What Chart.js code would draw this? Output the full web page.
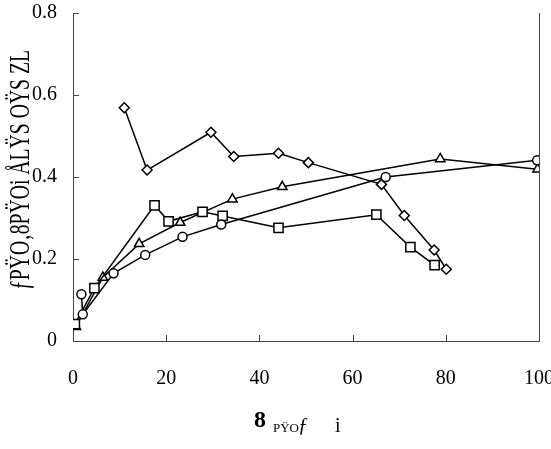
<!DOCTYPE html>
<html lang="en">
<head>
    <meta charset="UTF-8">
    <title>Chart</title>
    <style>
        body {
            margin: 0;
            background-color: white;
        }
        #wrap {
            width: 551px;
            height: 449px;
        }
    </style>
    <script src="https://cdn.jsdelivr.net/npm/chart.js"></script>
</head>
<body>
    <div id="wrap"><canvas id="myChart"></canvas></div>

    <script>
        // x values (abscissa) and y values for each marker series
        const circleX = [1.8, 2.1, 8.7, 15.5, 23.5, 31.8, 67.1, 99.6];
        const circleY = [0.114, 0.065, 0.165, 0.210, 0.254, 0.284, 0.400, 0.441];

        const squareX = [0.4, 4.6, 17.5, 20.5, 27.8, 32.1, 44.1, 65.1, 72.4, 77.6];
        const squareY = [0.041, 0.129, 0.331, 0.292, 0.315, 0.305, 0.276, 0.308, 0.229, 0.185];

        const triangleX = [0.6, 6.4, 14.2, 23.0, 34.2, 44.9, 78.8, 99.7];
        const triangleY = [0.035, 0.155, 0.237, 0.289, 0.346, 0.376, 0.444, 0.419];

        const diamondX = [11.0, 15.9, 29.6, 34.5, 44.1, 50.5, 66.2, 71.1, 77.5, 80.1];
        const diamondY = [0.569, 0.417, 0.509, 0.450, 0.458, 0.435, 0.382, 0.306, 0.222, 0.175];

        const xTicks = [0, 20, 40, 60, 80, 100];
        const yTicks = [0, 0.2, 0.4, 0.6, 0.8];

        const yTitle = 'ƒPŸO‚8PŸOi ÅLŸS OŸS ZL';
        const xTitleParts = [
            { text: '8', font: 'bold 24px "Liberation Serif"', x: 254, y: 427 },
            { text: 'PŸO', font: '13px "Liberation Serif"', x: 273, y: 432 },
            { text: 'ƒ', font: 'italic 20px "Liberation Serif"', x: 298, y: 432 },
            { text: 'i', font: '20px "Liberation Serif"', x: 335, y: 432 }
        ];

        function pts(xs, ys) {
            return xs.map((x, i) => ({ x: x, y: ys[i] }));
        }

        function series(label, xs, ys, style, radius) {
            return {
                label: label,
                data: pts(xs, ys),
                borderColor: '#000',
                borderWidth: 1.5,
                backgroundColor: '#fff',
                pointStyle: style,
                pointRadius: radius,
                pointBorderWidth: 1.5,
                pointBackgroundColor: '#fff',
                pointBorderColor: '#000',
                tension: 0,
                fill: false
            };
        }

        const PLOT_LEFT = 73, PLOT_RIGHT = 539, PLOT_TOP = 13, PLOT_BOTTOM = 341;

        // inward tick marks, right border and axis titles
        const decorations = {
            id: 'decorations',
            afterDraw(chart) {
                const ctx = chart.ctx;
                const xs = chart.scales.x, ys = chart.scales.y;
                const area = chart.chartArea;
                ctx.save();
                ctx.strokeStyle = '#444';
                ctx.lineWidth = 1;
                ctx.beginPath();
                ctx.moveTo(area.right + 0.5, area.top);
                ctx.lineTo(area.right + 0.5, area.bottom);
                xTicks.forEach(v => {
                    const px = Math.round(xs.getPixelForValue(v)) + 0.5;
                    ctx.moveTo(px, area.bottom);
                    ctx.lineTo(px, area.bottom - 6);
                });
                yTicks.forEach(v => {
                    const py = Math.round(ys.getPixelForValue(v)) + 0.5;
                    ctx.moveTo(area.left, py);
                    ctx.lineTo(area.left + 6, py);
                });
                ctx.stroke();

                // y title
                ctx.fillStyle = '#000';
                ctx.translate(29, 170);
                ctx.rotate(-Math.PI / 2);
                ctx.font = '30px "Liberation Serif"';
                ctx.textAlign = 'center';
                ctx.textBaseline = 'alphabetic';
                ctx.fillText(yTitle, 0, 0, 240);
                ctx.restore();

                // x title
                ctx.save();
                ctx.fillStyle = '#000';
                ctx.textBaseline = 'alphabetic';
                xTitleParts.forEach(p => {
                    ctx.font = p.font;
                    ctx.fillText(p.text, p.x, p.y);
                });
                ctx.restore();
            }
        };

        const ctx = document.getElementById('myChart').getContext('2d');
        const myChart = new Chart(ctx, {
            type: 'line',
            data: {
                datasets: [
                    series('circle', circleX, circleY, 'circle', 4.5),
                    series('square', squareX, squareY, 'rect', 6.5),
                    series('triangle', triangleX, triangleY, 'triangle', 5.5),
                    series('diamond', diamondX, diamondY, 'rectRot', 5)
                ]
            },
            plugins: [decorations],
            options: {
                responsive: true,
                maintainAspectRatio: false,
                animation: false,
                layout: {
                    padding: { left: 0, right: 551 - PLOT_RIGHT, top: PLOT_TOP, bottom: 0 }
                },
                plugins: {
                    legend: { display: false },
                    tooltip: { enabled: false }
                },
                scales: {
                    x: {
                        type: 'linear',
                        min: 0,
                        max: 100,
                        afterBuildTicks(scale) {
                            scale.ticks = xTicks.map(v => ({ value: v }));
                        },
                        afterFit(scale) {
                            scale.height = 449 - PLOT_BOTTOM;
                            scale.paddingLeft = 0;
                            scale.paddingRight = 0;
                        },
                        grid: { display: false, drawTicks: false },
                        border: { display: true, color: '#444', width: 1 },
                        ticks: {
                            padding: 26,
                            color: '#000',
                            maxRotation: 0,
                            font: { family: '"Liberation Serif"', size: 20 }
                        }
                    },
                    y: {
                        min: 0,
                        max: 0.8,
                        afterBuildTicks(scale) {
                            scale.ticks = yTicks.map(v => ({ value: v }));
                        },
                        afterFit(scale) {
                            scale.width = PLOT_LEFT;
                            scale.paddingTop = 0;
                            scale.paddingBottom = 0;
                        },
                        grid: { display: false, drawTicks: false },
                        border: { display: true, color: '#444', width: 1 },
                        ticks: {
                            padding: 16,
                            color: '#000',
                            font: { family: '"Liberation Serif"', size: 20 },
                            callback: v => v === 0 ? '0' : v.toFixed(1)
                        }
                    }
                }
            }
        });
    </script>
</body>
</html>
